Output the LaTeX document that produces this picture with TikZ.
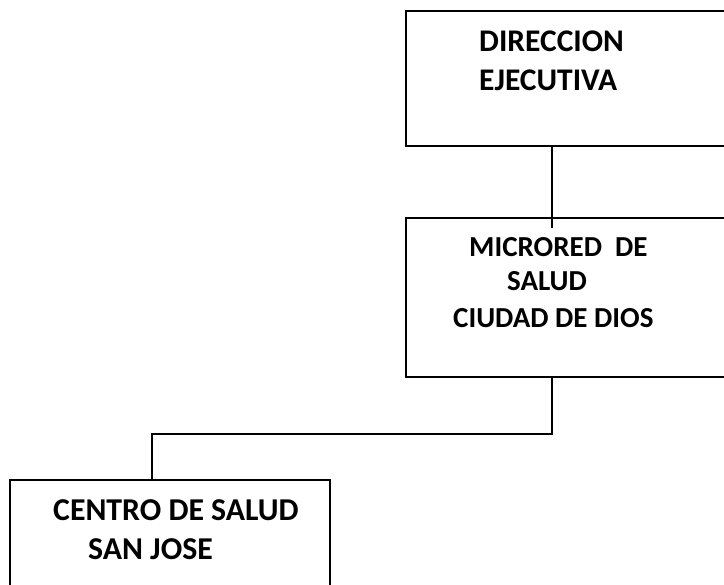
\documentclass[tikz,border=0pt]{standalone}
\usepackage{fontspec}
\setmainfont{Carlito}
\begin{document}
\begin{tikzpicture}[x=1pt,y=-1pt,
  box/.style={draw=black,line width=1.6pt,inner sep=0pt,outer sep=0pt,rectangle},
  lbl/.style={anchor=base west,inner sep=0pt,font=\bfseries},
  conn/.style={draw=black,line width=1.6pt}]
\useasboundingbox (0,0) rectangle (724,585);
\clip (0,0) rectangle (724,585);
\node[box,minimum width=394pt,minimum height=135pt] (top) at (603,78.5) {};
\node[box,minimum width=394pt,minimum height=159pt] (mid) at (603,297.5) {};
\node[box,minimum width=320pt,minimum height=160pt] (bot) at (170,560) {};
\node[lbl,font=\fontsize{31.5}{34}\selectfont\bfseries] (t1) at (479,52) {DIRECCION};
\node[lbl,font=\fontsize{31.5}{34}\selectfont\bfseries] (t2) at (479,91) {EJECUTIVA};
\node[lbl,font=\fontsize{29}{32}\selectfont\bfseries] (m1) at (469,257) {MICRORED\ \ DE};
\node[lbl,font=\fontsize{29}{32}\selectfont\bfseries] (m2) at (507,291) {SALUD};
\node[lbl,font=\fontsize{29}{32}\selectfont\bfseries] (m3) at (453,328) {CIUDAD DE DIOS};
\node[lbl,font=\fontsize{31.8}{34}\selectfont\bfseries] (b1) at (53,521) {CENTRO DE SALUD};
\node[lbl,font=\fontsize{31.8}{34}\selectfont\bfseries] (b2) at (88,560) {SAN JOSE};
\coordinate (c1) at (552,228);
\coordinate (c2) at (552,434);
\coordinate (c3) at (152,480);
\draw[conn] (top.south -| c1) -- (c1);
\draw[conn] (mid.south -| c2) -- (c2) -| (bot.north -| c3);
\end{tikzpicture}
\end{document}
